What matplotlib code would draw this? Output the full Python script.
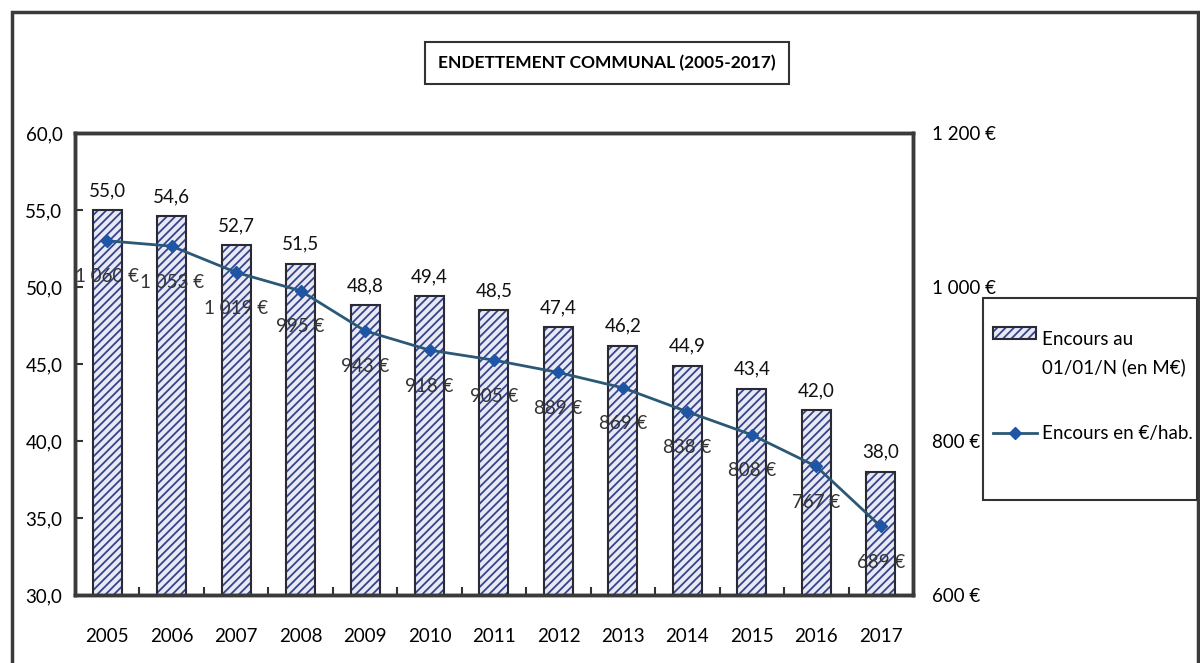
import matplotlib
matplotlib.use('Agg')
from matplotlib import pyplot as plt
from matplotlib.patches import Rectangle
from matplotlib.lines import Line2D
import numpy as np

plt.rcParams['font.family'] = ['Lato', 'DejaVu Sans']
plt.rcParams['hatch.linewidth'] = 1.3

years = ['2005', '2006', '2007', '2008', '2009', '2010', '2011',
         '2012', '2013', '2014', '2015', '2016', '2017']
encours_meur = [55.0, 54.6, 52.7, 51.5, 48.8, 49.4, 48.5, 47.4, 46.2, 44.9, 43.4, 42.0, 38.0]
encours_hab = [1060, 1053, 1019, 995, 943, 918, 905, 889, 869, 838, 808, 767, 689]
left_ticks = [30, 35, 40, 45, 50, 55, 60]
right_ticks = [600, 800, 1000, 1200]

BAR_FACE = '#e8e9f5'
HATCH_COL = '#34448a'
LINE_COL = '#2b5877'
MARK_COL = '#1f55a5'


def fr_num(v):
    return ('%.1f' % v).replace('.', ',')


def fr_eur(v):
    s = '{:,}'.format(int(v)).replace(',', ' ')
    return s + ' €'


def px(xp, yp):
    # pixel position (from top-left) -> figure fraction
    return xp / 1200, 1 - yp / 663


fig = plt.figure(figsize=(12, 6.63), dpi=100)

# outer frame of the whole graphic
fig.patches.append(Rectangle((12 / 1200, -0.05), 1186 / 1200, 1 - 12 / 663 + 0.05,
                             transform=fig.transFigure, fill=False,
                             edgecolor='#3a3a3a', linewidth=2.5))

ax = fig.add_axes([0.0625, 0.1026, 0.6983, 0.6968])
x = np.arange(len(years))

bar_w = 0.45
ax.bar(x, encours_meur, width=bar_w, bottom=0, color=BAR_FACE,
       edgecolor=HATCH_COL, hatch='////', linewidth=0, zorder=2)
ax.bar(x, encours_meur, width=bar_w, fill=False, edgecolor='#2a2a35',
       linewidth=1.5, zorder=3)
for xi, v in zip(x, encours_meur):
    ax.annotate(fr_num(v), (xi, v), xytext=(0, 8), textcoords='offset points',
                ha='center', va='bottom', fontsize=13.5, color='#111111')

ax.set_ylim(30, 60)
ax.set_xlim(-0.5, len(years) - 0.5)
ax.set_yticks(left_ticks)
ax.set_yticklabels([fr_num(t) for t in left_ticks], fontsize=13.5)
ax.set_xticks(x)
ax.set_xticklabels(years, fontsize=13.5)
ax.set_xticks(np.arange(len(years) - 1) + 0.5, minor=True)
ax.tick_params(axis='x', which='major', length=0, pad=24)
ax.tick_params(axis='x', which='minor', direction='in', length=6, width=1.5, color='#333333')
ax.tick_params(axis='y', direction='in', length=6, width=1.5, color='#333333', pad=9)
for sp in ax.spines.values():
    sp.set_linewidth(2.5)
    sp.set_color('#3a3a3a')

ax2 = ax.twinx()
ax2.plot(x, encours_hab, color=LINE_COL, linewidth=2, marker='D', markersize=6.5,
         markerfacecolor=MARK_COL, markeredgecolor=MARK_COL, zorder=4)
for xi, v in zip(x, encours_hab):
    ax2.annotate(fr_eur(v), (xi, v), xytext=(0, -26), textcoords='offset points',
                 ha='center', va='center', fontsize=13.5, color='#333333')
ax2.set_ylim(600, 1200)
ax2.set_yticks(right_ticks)
ax2.set_yticklabels([fr_eur(t) for t in right_ticks], fontsize=13.5)
ax2.tick_params(axis='y', length=0, pad=14)
for sp in ax2.spines.values():
    sp.set_linewidth(2.5)
    sp.set_color('#3a3a3a')

# title in its own box
fig.text(607 / 1200, 1 - 63 / 663, 'ENDETTEMENT COMMUNAL (2005-2017)',
         ha='center', va='center', fontsize=12.5, fontweight='bold',
         bbox=dict(boxstyle='square,pad=0.75', facecolor='white',
                   edgecolor='#333333', linewidth=1.5))

# legend box on the right, laid out by hand
fig.patches.append(Rectangle(px(983, 500), 214 / 1200, 202 / 663,
                             transform=fig.transFigure, facecolor='white',
                             edgecolor='#333333', linewidth=1.5))
fig.patches.append(Rectangle(px(993, 339), 43 / 1200, 12 / 663,
                             transform=fig.transFigure, facecolor=BAR_FACE,
                             edgecolor=HATCH_COL, hatch='////', linewidth=0))
fig.patches.append(Rectangle(px(993, 339), 43 / 1200, 12 / 663,
                             transform=fig.transFigure, fill=False,
                             edgecolor='#2a2a35', linewidth=1.5))
fig.text(*px(1042, 340), 'Encours au', ha='left', va='center', fontsize=13.5)
fig.text(*px(1042, 367), '01/01/N (en M€)', ha='left', va='center', fontsize=13.5)
fig.lines.append(Line2D([993 / 1200, 1037 / 1200], [1 - 433 / 663] * 2,
                        transform=fig.transFigure, color=LINE_COL, linewidth=2))
fig.lines.append(Line2D([1015 / 1200], [1 - 433 / 663], transform=fig.transFigure,
                        marker='D', markersize=6.5, markerfacecolor=MARK_COL,
                        markeredgecolor=MARK_COL, linestyle='none'))
fig.text(*px(1042, 433), 'Encours en €/hab.', ha='left', va='center', fontsize=13.5)

plt.savefig('out.png', dpi=100)
plt.close()
